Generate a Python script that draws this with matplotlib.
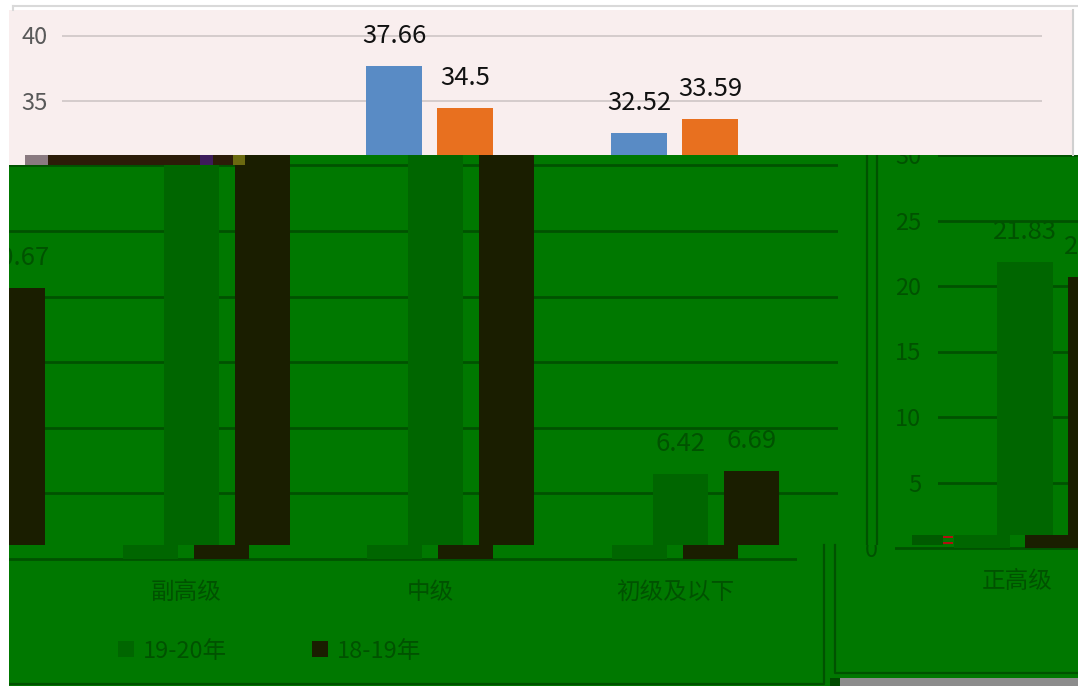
import numpy as np
import matplotlib
matplotlib.use('Agg')
import matplotlib.pyplot as plt
from matplotlib.patches import Rectangle
from matplotlib.lines import Line2D
from matplotlib.transforms import Bbox, TransformedBbox

plt.rcParams['font.family'] = ['Noto Sans CJK SC', 'DejaVu Sans']

# data (percent)
categories = ['正高级', '副高级', '中级', '初级及以下']
series_names = ['19-20年', '18-19年']
vals_1920 = [21.83, 37.66, 32.52, 6.42]
vals_1819 = [20.67, 34.5, 33.59, 6.69]

W, H = 1078, 686
S = 13.1          # px per percent unit
BW, OFF = 0.225, 0.145
LBL = 30 / S      # label sits 30 px above bar top

pink = '#f9eeee'
green = '#007800'
dk = '#005200'
bar_g = '#006600'
bar_k = '#1a1e00'

fig = plt.figure(figsize=(W / 100, H / 100), dpi=100)


def px_axes(x0, y0, x1, y1, z):
    ax = fig.add_axes([x0 / W, 1 - y1 / H, (x1 - x0) / W, (y1 - y0) / H])
    ax.set_zorder(z)
    return ax


def rect(x0, y0, x1, y1, color, z):
    fig.add_artist(Rectangle((x0 / W, 1 - y1 / H), (x1 - x0) / W, (y1 - y0) / H,
                             transform=fig.transFigure, facecolor=color,
                             edgecolor='none', zorder=z))


def line(xs, ys, color, lw, z):
    fig.add_artist(Line2D([x / W for x in xs], [1 - y / H for y in ys],
                          transform=fig.transFigure, color=color, lw=lw, zorder=z))


def chart(ax, y_zero, y0, y1, c1, c2, grid_c, txt_c, yticks, grid_lw=2.0):
    x = np.arange(len(categories))
    ax.bar(x - OFF, vals_1920, width=BW, color=c1, zorder=2, label=series_names[0])
    ax.bar(x + OFF, vals_1819, width=BW, color=c2, zorder=2, label=series_names[1])
    for xi, v in zip(x - OFF, vals_1920):
        ax.text(xi, v + LBL, f'{v:g}', ha='center', va='center', fontsize=18.5,
                color=txt_c, clip_on=True, clip_box=ax.bbox, zorder=3)
    for xi, v in zip(x + OFF, vals_1819):
        ax.text(xi, v + LBL, f'{v:g}', ha='center', va='center', fontsize=18.5,
                color=txt_c, clip_on=True, clip_box=ax.bbox, zorder=3)
    ax.set_xlim(-0.5, 3.5)
    ax.set_ylim((y_zero - y1) / S, (y_zero - y0) / S)
    ax.set_facecolor('none')
    for sp in ax.spines.values():
        sp.set_visible(False)
    ax.spines['bottom'].set_position(('data', 0))
    ax.set_yticks(yticks)
    ax.yaxis.grid(True, color=grid_c, lw=grid_lw, zorder=1)
    ax.set_axisbelow(True)
    ax.tick_params(axis='y', length=0, labelsize=17, pad=12)
    ax.set_xticks([])


# ---- green glitch band (drawn first, underneath) ----
rect(9, 155, 1078, 686, green, 1)

# upper band, left chart (shifted right)
ul = px_axes(-140, 155, 838, 545, 2)
chart(ul, 558.5, 155, 545, bar_g, bar_k, dk, dk, [5, 10, 15, 20, 25, 30])
ul.tick_params(axis='y', labelleft=False)

# upper band, right chart
ur = px_axes(938, 155, 1918, 535, 3)
chart(ur, 548, 155, 535, bar_g, bar_k, dk, dk, [5, 10, 15, 20, 25, 30])
ur.tick_params(axis='y', labelcolor=dk)
line([867, 867], [155, 545], dk, 1.6, 3)
line([877, 877], [155, 545], dk, 1.6, 3)

# lower band background
rect(9, 545, 1078, 686, green, 5)
rect(897, 535, 1078, 545, green, 5)
rect(912, 535, 943, 545, '#005a00', 5.5)
rect(943, 536, 953, 538, '#b01010', 5.5)
rect(943, 542, 953, 544, '#b01010', 5.5)

# lower band, left chart
ll = px_axes(-181, 545, 797, 686, 6)
chart(ll, 558.5, 545, 686, bar_g, bar_k, dk, dk, [0])
ll.tick_params(axis='y', labelleft=False)
ll.set_xticks(np.arange(len(categories)))
ll.set_xticklabels(categories)
ll.tick_params(axis='x', length=0, labelsize=17, labelcolor=dk, pad=16)
leg = ll.legend(loc='center', bbox_to_anchor=(270 / W, 1 - 651 / H),
                bbox_transform=fig.transFigure, ncol=2, frameon=False,
                fontsize=17, labelcolor=dk, handlelength=0.65, handleheight=0.65,
                handletextpad=0.4, columnspacing=3.6)

# lower band, right chart
lr = px_axes(895, 535, 1875, 686, 6)
chart(lr, 548, 535, 686, bar_g, bar_k, dk, dk, [0])
lr.tick_params(axis='y', labelcolor=dk)
lr.set_xticks(np.arange(len(categories)))
lr.set_xticklabels(categories)
lr.tick_params(axis='x', length=0, labelsize=17, labelcolor=dk, pad=16)
clip = TransformedBbox(Bbox.from_extents(850 / W, 0, 897 / W, 1 - 545 / H), fig.transFigure)
for t in lr.get_yticklabels():
    t.set_clip_on(True)
    t.set_clip_box(clip)

# lower band borders
line([824, 824, 9], [545, 684, 684], dk, 1.6, 7)
line([835, 835, 1078], [545, 673, 673], dk, 1.6, 7)
rect(840, 678, 1078, 686, '#8c8c8c', 7)
rect(830, 678, 840, 686, '#004a00', 7)

# ---- top (pink) chart ----
rect(9, 10, 1072, 155, pink, 8)
top = px_axes(62, 10, 1042, 155, 9)
chart(top, 559.5, 10, 155, '#598bc5', '#e8701f', '#d4cccc', '#111111', [35, 40], grid_lw=1.4)
top.tick_params(axis='y', labelcolor='#595959', pad=10)
line([13, 1078], [6, 6], '#d9d9d9', 1.5, 9)
line([13, 13], [6, 10], '#d9d9d9', 1.5, 9)
line([1073, 1073], [10, 155], '#d0d0d0', 1.5, 9)

# glitch strip at the seam
rect(9, 155, 25, 165, pink, 9.5)
rect(25, 155, 48, 165, '#8a7a80', 9.5)
rect(48, 155, 233, 165, '#2c1c08', 9.5)
rect(200, 155, 213, 165, '#3d1c5a', 9.6)
rect(233, 155, 245, 165, '#6b6a10', 9.5)

# white margin on the left
rect(0, 0, 9, 686, 'white', 10)

fig.savefig('out.png', dpi=100)
